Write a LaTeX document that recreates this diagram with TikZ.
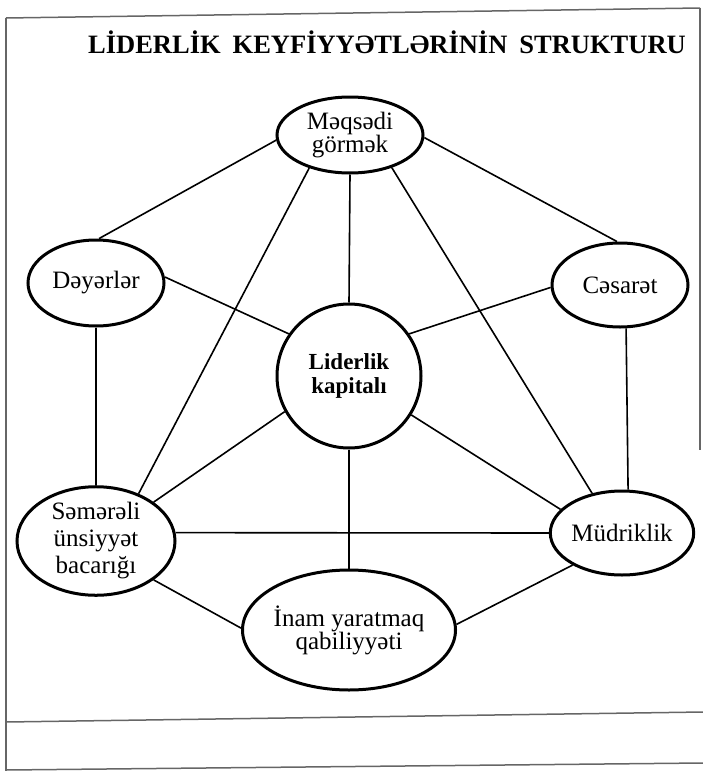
\documentclass[tikz,border=0pt]{standalone}
\usepackage{fontspec}
\setmainfont{Liberation Serif}
\usetikzlibrary{shapes.geometric}
\begin{document}
\begin{tikzpicture}[x=1pt,y=-1pt,
  oval/.style={draw=black, line width=3pt, ellipse, inner sep=0pt, align=center,
    font=\fontsize{25}{23}\selectfont},
  hub/.style={draw=black, line width=3pt, circle, inner sep=0pt, align=center,
    minimum size=144pt, font=\fontsize{23}{24}\selectfont\bfseries},
  link/.style={draw=black, line width=1.6pt},
  framed/.style={draw=black!60, line width=1.5pt}]
\useasboundingbox (0,0) rectangle (703,771);
% frame
\draw[framed] (6,18) -- (700,8);
\draw[framed] (6,18) -- (6,771);
\draw[framed] (700,8) -- (700,450);
\draw[framed] (6,722) -- (703,712);
\draw[framed] (6,770) -- (703,763);
% title
\node[font=\fontsize{26.5}{30}\selectfont\bfseries, anchor=base, inner sep=0pt] (title) at (387,53)
  {LİDERLİK\hspace{12pt}KEYFİYYƏTLƏRİNİN\hspace{12pt}STRUKTURU};
% nodes
\node[oval, minimum width=146pt, minimum height=76pt] (m) at (350,135) {Məqsədi\\görmək};
\node[oval, minimum width=136pt, minimum height=86pt] (d) at (96,283) {Dəyərlər};
\node[oval, minimum width=136pt, minimum height=84pt] (c) at (620,285) {Cəsarət};
\node[hub] (l) at (349,376) {Liderlik\\kapitalı};
\node[oval, minimum width=158pt, minimum height=104pt, font=\fontsize{25}{27}\selectfont] (s) at (96,541) {Səmərəli\\ünsiyyət\\bacarığı};
\node[oval, minimum width=136pt, minimum height=84pt] (md) at (622,533) {Müdriklik};
\node[oval, minimum width=194pt, minimum height=120pt] (i) at (349,630) {İnam yaratmaq\\qabiliyyəti};
% links
\draw[link] (m.184) -- (d.86);
\draw[link] (m.358) -- (c.94);
\draw[link] (m.270) -- (l.90);
\draw[link] (m.219) -- (s.48);
\draw[link] (m.322) -- (md.127);
\draw[link] (d.5) -- (l.145);
\draw[link] (d.270) -- (s.90);
\draw[link] (c.182) -- (l.35);
\draw[link] (c.278) -- (md.82);
\draw[link] (l.209) -- (s.34);
\draw[link] (l.328) -- (md.159);
\draw[link] (l.270) -- (i.90);
\draw[link] (s.6) -- (md.180);
\draw[link] (s.326) -- (i.179);
\draw[link] (md.213) -- (i.3);
\end{tikzpicture}
\end{document}
